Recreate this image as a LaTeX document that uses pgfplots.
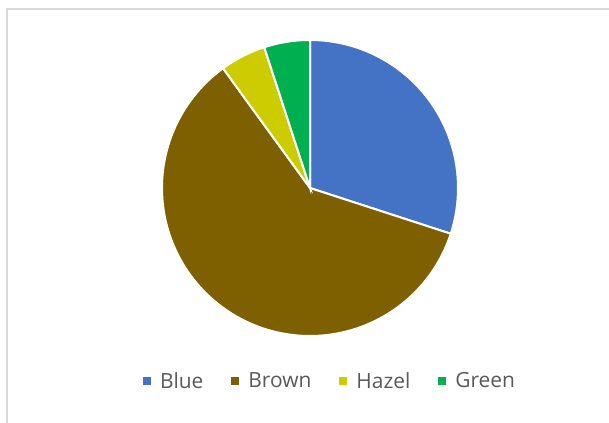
\documentclass[border=0pt]{standalone}
\usepackage{pgfplots}
\pgfplotsset{compat=1.18}
\usepackage{fontspec}
\setmainfont{Open Sans}
\definecolor{cBlue}{HTML}{4472C4}
\definecolor{cBrown}{HTML}{7F6000}
\definecolor{cHazel}{HTML}{CCCC00}
\definecolor{cGreen}{HTML}{00B050}
\definecolor{cText}{HTML}{595959}
\definecolor{cFrame}{HTML}{D9D9D9}
\begin{document}
\begin{tikzpicture}
\begin{axis}[
  hide axis, scale only axis,
  width=609bp, height=423bp,
  xmin=0, xmax=609, ymin=0, ymax=423,
  clip=false,
  legend columns=4,
  legend style={draw=none, fill=none, at={(axis cs:330,42)}, anchor=center,
    font=\fontsize{21}{24}\selectfont, text=cText,
    /tikz/every even column/.append style={column sep=26bp},
    /tikz/every odd column/.append style={column sep=7bp}},
  legend image code/.code={\fill[#1,draw=none] (0bp,-4bp) rectangle (8bp,4bp);},
]
% frame
\addplot[draw=cFrame, line width=1.5bp, forget plot] coordinates {(7,0) (7,414) (609,414)};
% Blue 30% : 90 -> -18
\addplot[fill=cBlue, draw=white, line width=2bp, domain=-18:90, samples=80, variable=\t]
  ({310+148*cos(\t)},{235+148*sin(\t)}) -- (axis cs:310,235) -- cycle;
% Brown 60% : -18 -> -234
\addplot[fill=cBrown, draw=white, line width=2bp, domain=-234:-18, samples=150, variable=\t]
  ({310+148*cos(\t)},{235+148*sin(\t)}) -- (axis cs:310,235) -- cycle;
% Hazel 5% : -234 -> -252
\addplot[fill=cHazel, draw=white, line width=2bp, domain=-252:-234, samples=20, variable=\t]
  ({310+148*cos(\t)},{235+148*sin(\t)}) -- (axis cs:310,235) -- cycle;
% Green 5% : -252 -> -270
\addplot[fill=cGreen, draw=white, line width=2bp, domain=-270:-252, samples=20, variable=\t]
  ({310+148*cos(\t)},{235+148*sin(\t)}) -- (axis cs:310,235) -- cycle;
\legend{Blue, Brown, Hazel, Green}
\end{axis}
\pgfresetboundingbox
\path (current axis.south west) rectangle (current axis.north east);
\end{tikzpicture}
\end{document}
